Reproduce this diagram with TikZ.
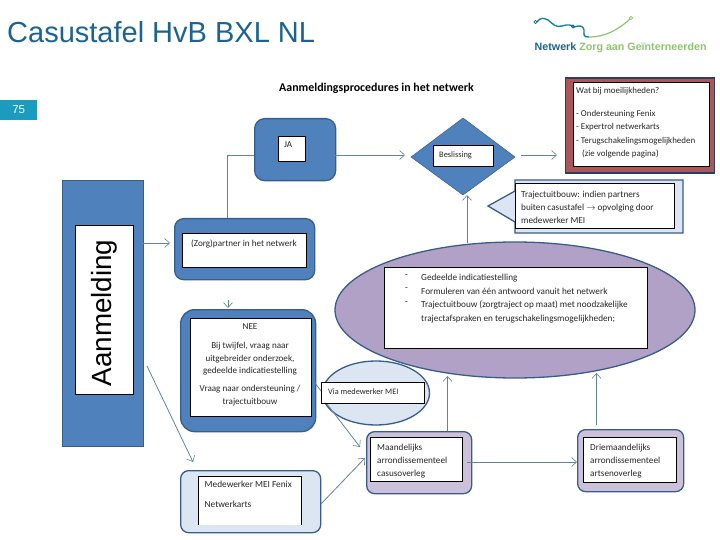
\documentclass[tikz,border=0pt]{standalone}
\usepackage{fontspec}
\setmainfont{Liberation Sans}
\newfontfamily\bodyfont{Carlito}
\usetikzlibrary{arrows.meta,shapes.geometric}
\definecolor{bluefill}{HTML}{4F81BD}
\definecolor{blueedge}{HTML}{385D8A}
\definecolor{palefill}{HTML}{DCE6F2}
\definecolor{lilac}{HTML}{B2A1C7}
\definecolor{lilacpale}{HTML}{CCC1DA}
\definecolor{redfill}{HTML}{A9565C}
\definecolor{titleblue}{HTML}{1B6392}
\definecolor{tagblue}{HTML}{1A9BBF}
\definecolor{arrowblue}{HTML}{5F82A8}
\definecolor{logogreen}{HTML}{8CC56E}
\tikzset{
  x=1pt,y=-1pt,
  conn/.style={draw=arrowblue,line width=0.8pt},
  arr/.style={conn,-{Straight Barb[length=5pt,width=9pt,line width=0.6pt]}},
  whitebox/.style={draw=black,fill=white,line width=0.9pt,minimum width=0pt,minimum height=0pt,inner sep=0pt,outer sep=0pt},
  panel/.style={draw=blueedge,line width=1.3pt,rounded corners=#1},
  panel/.default=10pt,
  txt/.style={font=\bodyfont\fontsize{9.1}{10}\selectfont,text=black!85,inner sep=0pt,align=left},
}
\newcommand{\pxbox}[5]{\node[whitebox,anchor=north west,minimum width=#4-#2,minimum height=#5-#3] (#1) at (#2,#3) {};}
\begin{document}
\begin{tikzpicture}
\useasboundingbox (0,0) rectangle (720,540);
% title and tag
\node[anchor=west,inner sep=0pt,text=titleblue,font=\fontsize{29}{32}\selectfont] (title) at (7,32) {Casustafel HvB BXL NL};
\node[anchor=north west,fill=tagblue,minimum width=37,minimum height=20,inner sep=0pt,text=white,font=\fontsize{11.5}{12}\selectfont] (tag) at (0,99.5) {75};
% logo
\draw[line width=1.4pt,draw=titleblue!80!cyan] (537,22) .. controls (540,17) and (544,18) .. (548,20) .. controls (553,24) and (556,28) .. (562,26) .. controls (568,24) and (572,25) .. (574,27) .. controls (581,25) and (583,26) .. (584,30) .. controls (584,35) and (583,37) .. (589,37);
\draw[line width=1.2pt,draw=logogreen] (589,37) .. controls (605,37) and (618,30) .. (630,19);
\draw[line width=0.7pt,draw=titleblue] (535.5,22) circle (1.6);
\draw[line width=0.7pt,draw=titleblue] (573,26.5) circle (1.6);
\draw[line width=0.7pt,draw=logogreen] (631,18) circle (1.6);
\node[anchor=west,inner sep=0pt,font=\fontsize{10.7}{12}\selectfont\bfseries,text=titleblue] (logo) at (534.5,47.5) {Netwerk \textcolor{logogreen}{Zorg aan Geïnterneerden}};
% heading
\node[anchor=west,inner sep=0pt,font=\bodyfont\bfseries\fontsize{11.9}{13}\selectfont] (heading) at (279,88.5) {Aanmeldingsprocedures in het netwerk};
% Aanmelding
\node[anchor=north west,draw=blueedge,fill=bluefill,line width=1.3pt,minimum width=81,minimum height=266,inner sep=0pt] (aanm) at (61.5,180) {};
\pxbox{aanmw}{75.5}{225}{133.5}{394.5}
\node[rotate=90,inner sep=0pt,font=\fontsize{27.8}{30}\selectfont] (aanmt) at (104,313) {Aanmelding};
% partner
\node[anchor=north west,panel=9pt,fill=bluefill,minimum width=140,minimum height=61,inner sep=0pt] (partner) at (174,218) {};
\pxbox{partnerw}{182}{233}{306}{267}
\node[txt,anchor=west] (partnert) at (191,243.5) {(Zorg)partner in het netwerk};
% JA
\node[anchor=north west,panel=10pt,fill=bluefill,minimum width=81,minimum height=62,inner sep=0pt] (ja) at (254,118) {};
\pxbox{jaw}{278.5}{136.5}{305.5}{161}
\node[txt,anchor=west] (jat) at (284,144.5) {JA};
% diamond
\coordinate (dl) at (411,157); \coordinate (dt) at (463,118); \coordinate (dr) at (515,157); \coordinate (db) at (463,195);
\fill[bluefill] (dl) -- (dt) -- (dr) -- (db) -- cycle;
\draw[blueedge,line width=0.5pt] (dl) -- (dt) -- (dr) -- (db) -- cycle;
\pxbox{besl}{433}{145.5}{493.5}{166}
\node[txt,anchor=west,font=\bodyfont\fontsize{8.4}{10}\selectfont] (beslt) at (439,155.5) {Beslissing};
% problem box
\node[anchor=north west,draw=blueedge!70!black,fill=redfill,line width=1.3pt,minimum width=149,minimum height=95,inner sep=0pt] (wat) at (565,77.5) {};
\pxbox{watw}{573}{82}{709}{166.5}
\node[txt,anchor=north west,font=\bodyfont\fontsize{8.9}{13.4}\selectfont] (watt) at (576,87) {Wat bij moeilijkheden?\\[9.5pt]- Ondersteuning Fenix\\- Expertrol netwerkarts\\- Terugschakelingsmogelijkheden\\\hspace*{6pt}(zie volgende pagina)};
% callout
\filldraw[fill=palefill,draw=blueedge,line width=1.3pt] (515,180) -- (683,180) -- (683,233) -- (515,233) -- (515,222) -- (488,206) -- (515,191) -- cycle;
\pxbox{callw}{515.5}{183}{674}{228}
\node[txt,anchor=north west,font=\bodyfont\fontsize{9.2}{13}\selectfont] (callt) at (521,191) {Trajectuitbouw: indien partners\\buiten casustafel $\rightarrow$ opvolging door\\medewerker MEI};
% big ellipse
\node[ellipse,draw=blueedge,fill=lilac,line width=1.3pt,minimum width=360,minimum height=136,inner sep=0pt] (bigell) at (515,310) {};
\pxbox{bigw}{384.5}{267.5}{647}{348}
\node[txt,anchor=north west,font=\bodyfont\fontsize{9.2}{13.6}\selectfont] (bigd) at (405,274) {-\\-\\-};
\node[txt,anchor=north west,font=\bodyfont\fontsize{9.2}{13.6}\selectfont] (bigt) at (421,274) {Gedeelde indicatiestelling\\Formuleren van één antwoord vanuit het netwerk\\Trajectuitbouw (zorgtraject op maat) met noodzakelijke\\trajectafspraken en terugschakelingsmogelijkheden;};
% NEE
\node[anchor=north west,panel=14pt,fill=bluefill,minimum width=135,minimum height=122,inner sep=0pt] (nee) at (180,309) {};
\pxbox{neew}{190.5}{318.5}{311.5}{416}
\node[txt,align=center,anchor=north,font=\bodyfont\fontsize{9.1}{12.8}\selectfont] (neet) at (250,323.5) {NEE\\[6pt]Bij twijfel, vraag naar\\uitgebreider onderzoek,\\gedeelde indicatiestelling\\[5pt]Vraag naar ondersteuning /\\trajectuitbouw};
% small ellipse
\node[ellipse,draw=blueedge,fill=palefill,line width=1.3pt,minimum width=107,minimum height=64,inner sep=0pt] (smell) at (376,393) {};
\pxbox{viaw}{321.5}{382.5}{424}{403.5}
\node[txt,anchor=west,font=\bodyfont\fontsize{8.3}{10}\selectfont] (viat) at (328,392) {Via medewerker MEI};
% Medewerker
\node[anchor=north west,panel=8pt,fill=palefill,minimum width=140,minimum height=62,inner sep=0pt] (mede) at (180,470) {};
\fill[white] (198.5,476.5) rectangle (301.5,525);
\draw[black,line width=0.9pt] (198.5,525) -- (198.5,476.5) -- (301.5,476.5) -- (301.5,525);
\node[txt,anchor=north west,font=\bodyfont\fontsize{9.3}{20}\selectfont] (medet) at (204.5,481) {Medewerker MEI Fenix\\Netwerkarts};
% Maandelijks / Driemaandelijks
\node[anchor=north west,panel=8pt,fill=lilacpale,minimum width=105,minimum height=62,inner sep=0pt] (maand) at (366,431) {};
\pxbox{maandw}{370.5}{437.5}{462.5}{481}
\node[txt,anchor=north west,font=\bodyfont\fontsize{9.2}{13}\selectfont] (maandt) at (377,444) {Maandelijks\\arrondissementeel\\casusoverleg};
\node[anchor=north west,panel=8pt,fill=lilacpale,minimum width=106,minimum height=62,inner sep=0pt] (drie) at (577,429) {};
\pxbox{driew}{583.5}{437.5}{676.5}{482.5}
\node[txt,anchor=north west,font=\bodyfont\fontsize{9.2}{13}\selectfont] (driet) at (590,444) {Driemaandelijks\\arrondissementeel\\artsenoverleg};
% connectors
\coordinate (a1s) at (142,243); \coordinate (a1e) at (170,243);
\draw[arr] (a1s) -- (a1e);
\coordinate (pj) at (227.5,218); \coordinate (jl) at (254,155);
\draw[conn] (pj) |- (jl);
\coordinate (jr) at (335,155); \coordinate (da) at (405,155);
\draw[arr] (jr) -- (da);
\coordinate (d2s) at (521,155); \coordinate (d2e) at (557,155);
\draw[arr] (d2s) -- (d2e);
\coordinate (et) at (467,243); \coordinate (db2) at (467,195);
\draw[arr] (et) -- (db2);
\coordinate (n1) at (228,300); \coordinate (n2) at (228,308);
\draw[arr] (n1) -- (n2);
\coordinate (a2s) at (147,366); \coordinate (a2e) at (193,462);
\draw[arr] (a2s) -- (a2e);
\coordinate (v1) at (315,383); \coordinate (v2) at (321,391);
\draw[conn] (v1) -- (v2);
\coordinate (v3) at (327,404); \coordinate (v4) at (360,447);
\draw[arr] (v3) -- (v4);
\coordinate (m1s) at (321,504); \coordinate (m1e) at (365,458);
\draw[arr] (m1s) -- (m1e);
\coordinate (u1) at (447.5,431); \coordinate (u2) at (447.5,376);
\draw[arr] (u1) -- (u2);
\coordinate (w1) at (596.5,425); \coordinate (w2) at (596.5,373);
\draw[arr] (w1) -- (w2);
\coordinate (h1) at (467,462); \coordinate (h2) at (577,462);
\draw[arr] (h1) -- (h2);
\end{tikzpicture}
\end{document}
